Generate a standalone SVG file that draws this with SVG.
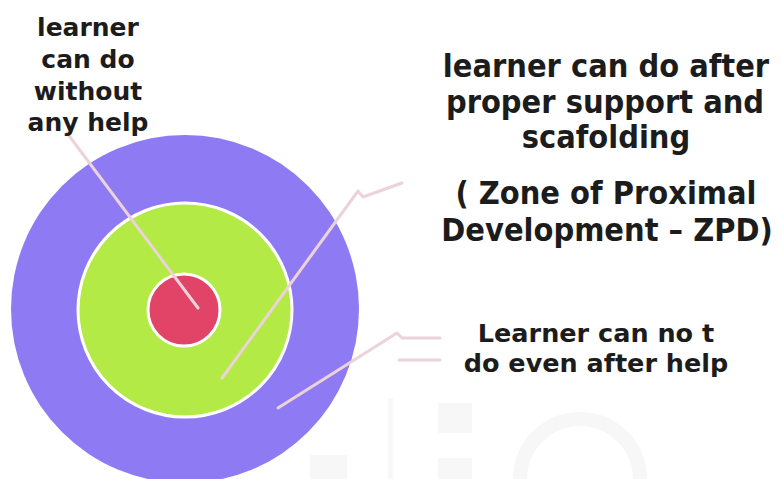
<svg xmlns="http://www.w3.org/2000/svg" width="781" height="479" viewBox="0 0 781 479">
<style>
.lbl{font-family:"DejaVu Sans","Verdana",sans-serif;font-weight:bold;fill:#1c1c1c;text-anchor:middle}
.big{font-size:29px}
.con{fill:none;stroke:#ecd2d9;stroke-width:3;stroke-linecap:round;stroke-linejoin:round}
.wm{fill:#f7f7f7}
</style>
<rect width="781" height="479" fill="#ffffff"/>
<g id="watermark">
<rect class="wm" x="388" y="398" width="5" height="81"/>
<rect class="wm" x="438" y="403" width="34" height="30"/>
<rect class="wm" x="438" y="458" width="34" height="21"/>
<rect class="wm" x="310" y="455" width="37" height="24"/>
<path d="M520 479 A60 60 0 0 1 640 479" fill="none" stroke="#f7f7f7" stroke-width="14"/>
</g>
<g id="outer-circle">
<circle cx="185" cy="309" r="174" fill="#8e7bf3"/>
</g>
<g id="zpd-circle">
<circle cx="185" cy="310" r="107" fill="#b4ea46" stroke="#ffffff" stroke-width="3"/>
</g>
<g id="inner-circle">
<circle cx="184" cy="310" r="36" fill="#e24467" stroke="#ffffff" stroke-width="3"/>
</g>
<g id="connectors">
<polyline class="con" points="67,133 198,308"/>
<polyline class="con" points="222,378 358,191 363,197 402,183"/>
<polyline class="con" points="278,408 397,333 402,338 440,338"/>
<polyline class="con" points="399,360 440,360"/>
</g>
<g id="label-inner">
<text class="lbl" font-size="25"><tspan x="88" y="36">learner</tspan><tspan x="88" y="68">can do</tspan><tspan x="88" y="100">without</tspan><tspan x="88" y="131">any help</tspan></text>
</g>
<g id="label-zpd">
<text class="lbl big" transform="translate(606,77) scale(1,1.1)">learner can do after</text>
<text class="lbl big" transform="translate(605,113) scale(1,1.1)">proper support and</text>
<text class="lbl big" transform="translate(606,148) scale(1,1.1)">scafolding</text>
<text class="lbl big" transform="translate(606,204) scale(1,1.1)">( Zone of Proximal</text>
<text class="lbl big" transform="translate(607,241) scale(1,1.1)">Development – ZPD)</text>
</g>
<g id="label-outer">
<text class="lbl" font-size="25.5"><tspan x="596" y="342">Learner can no t</tspan><tspan x="596" y="372">do even after help</tspan></text>
</g>
</svg>
